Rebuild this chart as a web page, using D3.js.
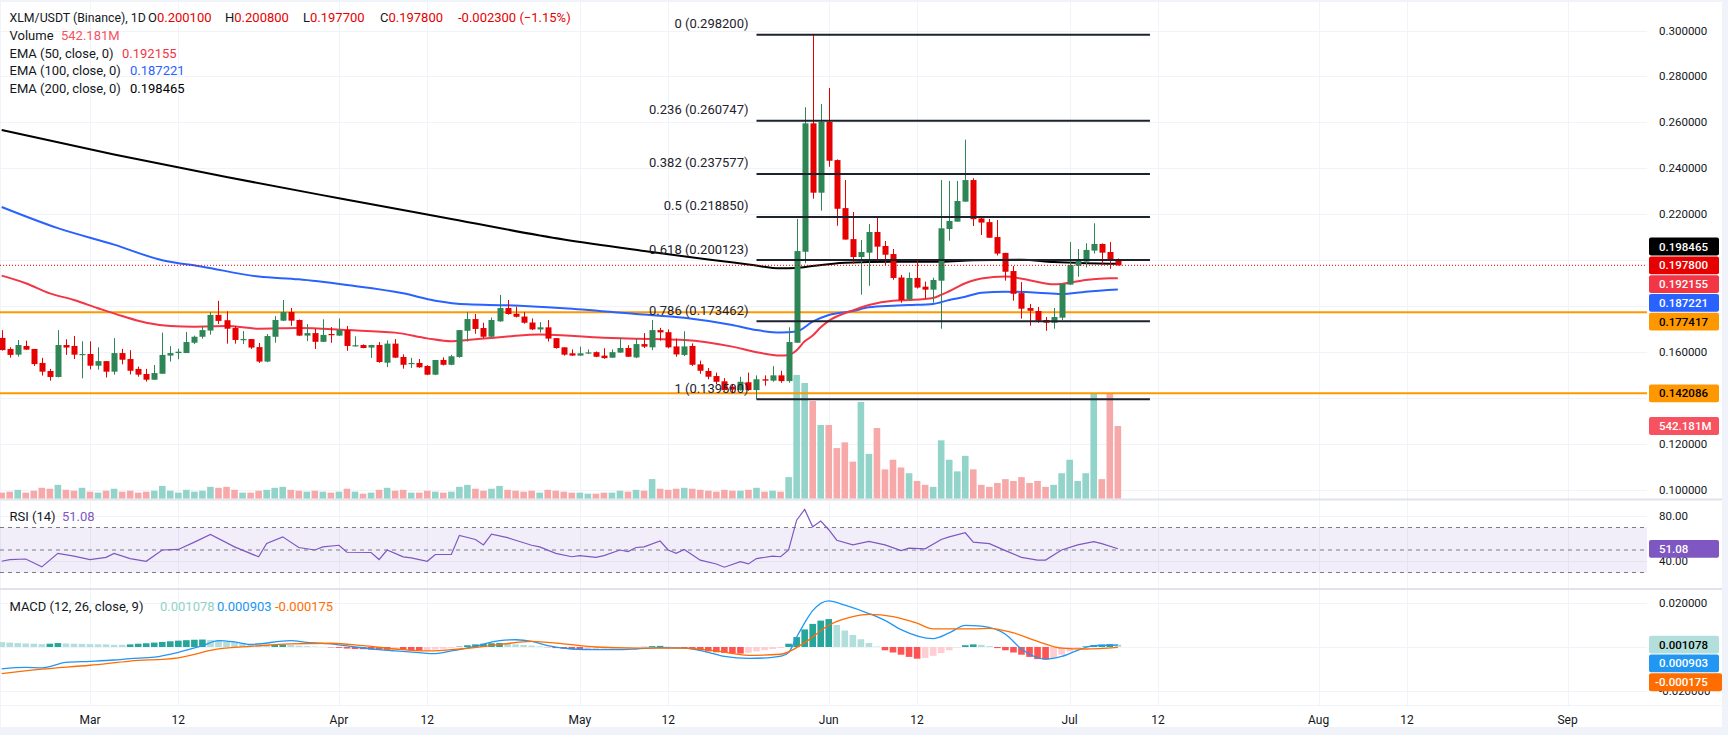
<!DOCTYPE html>
<html>
<head>
<meta charset="utf-8">
<script src="https://cdn.jsdelivr.net/npm/d3@7"></script>
<style>
html, body { margin: 0; padding: 0; background: #f0f3fa; }
svg { display: block; font-family: Roboto, "Liberation Sans", sans-serif; }
</style>
</head>
<body>
<div id="chart"></div>
<script>
// daily candles, Feb 18 .. Jul 7
const firstDay = new Date(2025, 1, 18);
const lastDay = new Date(2025, 6, 7);

const opens = [0.1662,0.1614,0.1589,0.1627,0.1614,0.1553,0.1518,0.1492,0.1631,0.1627,0.1588,0.1592,0.1541,0.1561,0.1515,0.1596,0.1570,0.1527,0.1505,0.1480,
  0.1506,0.1585,0.1596,0.1596,0.1641,0.1667,0.1694,0.1762,0.1739,0.1705,0.1654,0.1657,0.1622,0.1559,0.1667,0.1737,0.1775,0.1740,0.1672,0.1683,
  0.1645,0.1679,0.1672,0.1696,0.1627,0.1631,0.1620,0.1631,0.1554,0.1637,0.1579,0.1548,0.1553,0.1540,0.1502,0.1566,0.1545,0.1579,0.1693,0.1744,
  0.1705,0.1667,0.1734,0.1792,0.1767,0.1755,0.1729,0.1699,0.1708,0.1661,0.1621,0.1595,0.1585,0.1596,0.1600,0.1585,0.1576,0.1598,0.1618,0.1577,
  0.1635,0.1621,0.1696,0.1687,0.1625,0.1588,0.1627,0.1547,0.1518,0.1496,0.1473,0.1450,0.1435,0.1469,0.1435,0.1482,0.1476,0.1499,0.1474,0.1641,
  0.2037,0.2596,0.2294,0.2602,0.2436,0.2227,0.2092,0.2014,0.2033,0.2123,0.2062,0.2027,0.1925,0.1830,0.1923,0.1885,0.1872,0.1911,0.2136,0.2168,
  0.2255,0.2349,0.2182,0.2166,0.2101,0.2032,0.1953,0.1857,0.1792,0.1779,0.1740,0.1728,0.1750,0.1894,0.1976,0.1994,0.2042,0.2071,0.2036,0.2001];
const highs = [0.1696,0.1621,0.1653,0.1650,0.1614,0.1575,0.1527,0.1696,0.1656,0.1670,0.1647,0.1647,0.1621,0.1561,0.1661,0.1614,0.1609,0.1537,0.1527,0.1544,
  0.1685,0.1626,0.1615,0.1688,0.1672,0.1714,0.1775,0.1823,0.1778,0.1714,0.1692,0.1657,0.1640,0.1679,0.1757,0.1827,0.1792,0.1742,0.1722,0.1702,
  0.1743,0.1709,0.1747,0.1714,0.1669,0.1634,0.1632,0.1644,0.1651,0.1657,0.1590,0.1575,0.1570,0.1543,0.1566,0.1577,0.1588,0.1696,0.1775,0.1766,
  0.1728,0.1751,0.1849,0.1827,0.1798,0.1775,0.1747,0.1731,0.1740,0.1661,0.1621,0.1612,0.1624,0.1612,0.1603,0.1617,0.1612,0.1663,0.1630,0.1660,
  0.1683,0.1740,0.1706,0.1699,0.1659,0.1691,0.1638,0.1563,0.1531,0.1511,0.1487,0.1462,0.1493,0.1511,0.1499,0.1499,0.1539,0.1519,0.1708,0.2180,
  0.2666,0.2982,0.2680,0.2750,0.2439,0.2349,0.2210,0.2088,0.2158,0.2184,0.2084,0.2049,0.1936,0.1947,0.2002,0.1907,0.1924,0.2349,0.2345,0.2345,
  0.2525,0.2357,0.2193,0.2180,0.2175,0.2032,0.1975,0.1905,0.1810,0.1797,0.1753,0.1792,0.1897,0.2079,0.2049,0.2074,0.2161,0.2073,0.2079,0.2008];
const lows = [0.1607,0.1576,0.1580,0.1610,0.1540,0.1498,0.1476,0.1490,0.1588,0.1570,0.1486,0.1525,0.1524,0.1490,0.1502,0.1547,0.1503,0.1493,0.1472,0.1480,
  0.1506,0.1559,0.1569,0.1596,0.1635,0.1659,0.1676,0.1723,0.1637,0.1637,0.1635,0.1614,0.1553,0.1556,0.1641,0.1735,0.1715,0.1670,0.1648,0.1614,
  0.1644,0.1641,0.1670,0.1606,0.1624,0.1617,0.1575,0.1554,0.1535,0.1574,0.1528,0.1531,0.1532,0.1500,0.1500,0.1542,0.1543,0.1576,0.1646,0.1680,
  0.1660,0.1665,0.1732,0.1763,0.1751,0.1724,0.1696,0.1685,0.1646,0.1615,0.1585,0.1584,0.1584,0.1592,0.1578,0.1571,0.1575,0.1597,0.1579,0.1574,
  0.1618,0.1609,0.1650,0.1617,0.1580,0.1583,0.1540,0.1506,0.1482,0.1461,0.1432,0.1420,0.1432,0.1432,0.1395,0.1454,0.1471,0.1467,0.1467,0.1641,
  0.1987,0.2268,0.2216,0.2407,0.2150,0.2090,0.1984,0.1850,0.1889,0.1998,0.1979,0.1915,0.1815,0.1829,0.1877,0.1834,0.1815,0.1702,0.2085,0.2168,
  0.2255,0.2149,0.2110,0.2097,0.2021,0.1911,0.1824,0.1746,0.1715,0.1728,0.1693,0.1702,0.1740,0.1893,0.1928,0.1969,0.2029,0.1979,0.1963,0.1977];
const closes = [0.1609,0.1588,0.1631,0.1611,0.1548,0.1515,0.1492,0.1631,0.1620,0.1589,0.1592,0.1541,0.1561,0.1515,0.1596,0.1567,0.1519,0.1502,0.1480,0.1509,
  0.1588,0.1596,0.1602,0.1644,0.1667,0.1696,0.1762,0.1736,0.1702,0.1653,0.1657,0.1620,0.1559,0.1670,0.1740,0.1775,0.1737,0.1672,0.1683,0.1645,
  0.1675,0.1676,0.1696,0.1627,0.1630,0.1618,0.1631,0.1557,0.1637,0.1576,0.1545,0.1553,0.1534,0.1502,0.1566,0.1545,0.1582,0.1696,0.1744,0.1701,
  0.1667,0.1740,0.1792,0.1766,0.1754,0.1728,0.1699,0.1708,0.1659,0.1618,0.1589,0.1585,0.1595,0.1599,0.1580,0.1574,0.1600,0.1618,0.1580,0.1635,
  0.1624,0.1696,0.1686,0.1621,0.1590,0.1625,0.1545,0.1519,0.1493,0.1471,0.1435,0.1437,0.1471,0.1435,0.1482,0.1476,0.1499,0.1474,0.1644,0.2040,
  0.2596,0.2294,0.2602,0.2433,0.2224,0.2090,0.2014,0.2036,0.2123,0.2059,0.2024,0.1923,0.1827,0.1923,0.1881,0.1872,0.1914,0.2139,0.2171,0.2258,
  0.2349,0.2179,0.2164,0.2098,0.2029,0.1950,0.1854,0.1789,0.1780,0.1737,0.1728,0.1753,0.1897,0.1979,0.1997,0.2045,0.2071,0.2033,0.2001,0.1978];
// volume in millions
const volumes = [44,51,65,44,58,80,73,102,65,58,80,51,44,58,73,51,58,44,51,58,
  94,58,44,65,51,58,87,80,87,65,44,44,58,65,80,87,65,58,51,58,
  51,44,51,73,51,36,44,65,80,58,65,44,44,58,51,44,51,87,102,73,
  58,73,94,65,58,51,58,44,65,58,51,44,44,36,36,44,44,58,51,65,
  58,145,73,65,73,80,73,65,58,51,65,58,58,65,80,51,58,51,160,924,
  864,729,550,550,377,420,276,722,334,527,218,290,232,189,131,102,87,435,290,203,
  319,218,102,87,116,145,131,160,116,131,87,102,189,290,131,189,789,145,789,542.181];

// moving averages at sample days (index from Feb 18)
const ema50Idx = [0,3,6,9,12,15,18,21,24,28,32,37,43,49,53,56,58,60,63,67,75,81,85,91,94,97,98,99,100,101,102,103,106,108,111,113,116,117,118,120,122,125,128,131,132,135,138,139];
const ema50Val = [0.1933,0.1900,0.1856,0.1827,0.1791,0.1757,0.1728,0.1714,0.1711,0.1714,0.1702,0.1705,0.1696,0.1685,0.1660,0.1647,0.1653,0.1659,0.1668,0.1677,0.1663,0.1657,0.1653,0.1624,0.1600,0.1585,0.1588,0.1608,0.1647,0.1672,0.1708,0.1736,0.1782,0.1805,0.1824,0.1827,0.1836,0.1849,0.1865,0.1900,0.1921,0.1929,0.1913,0.1895,0.1897,0.1914,0.1922,0.192155];
const ema100Idx = [0,7,14,20,25,32,37,43,50,54,58,63,70,79,85,91,94,97,99,101,103,106,108,111,113,116,118,120,122,125,129,132,135,139];
const ema100Val = [0.2232,0.2140,0.2068,0.2000,0.1972,0.1929,0.1917,0.1892,0.1856,0.1824,0.1808,0.1804,0.1791,0.1766,0.1750,0.1718,0.1696,0.1685,0.1690,0.1733,0.1762,0.1779,0.1795,0.1802,0.1805,0.1810,0.1827,0.1841,0.1859,0.1863,0.1859,0.1853,0.1863,0.187221];
const ema200Idx = [0,14,28,42,56,70,80,88,93,97,99,101,105,111,117,121,127,131,135,139];
const ema200Val = [0.2567,0.2460,0.2362,0.2270,0.2180,0.2090,0.2040,0.2003,0.1982,0.1965,0.1966,0.1975,0.1989,0.1994,0.1994,0.2000,0.2002,0.1992,0.1987,0.198465];

// RSI (14)
const rsiIdx = [0,1,3,5,7,9,11,13,14,16,18,20,22,24,26,29,32,33,35,37,39,40,42,43,46,47,48,50,51,53,54,56,57,59,60,61,63,64,66,67,69,71,72,74,75,77,78,79,80,82,83,84,85,87,89,90,92,93,94,96,97,98,99,100,101,102,103,104,106,108,110,112,113,115,117,118,120,121,123,125,127,129,130,132,134,136,137,139];
const rsiVal = [40,41.5,42,35,47,44.5,41.5,43.5,47,42.4,40,50,50.5,57,63.8,52.8,43.9,55.8,61.7,52.2,50,52.8,54.2,48,47.8,41.5,50,43.9,43,40,46,46,63,59.3,54.5,64,61,58.7,54.2,52.8,47,44,45,43.5,45,50,48.6,52.2,52.8,58,50,47,50.5,41,37.6,34.7,39.7,37.6,42.4,44.5,44,50,76.5,86,70.6,75.7,68,58.7,54.5,57.7,54.5,49.4,51.6,51,59.3,61.7,65.3,57,55.6,49.4,43.5,41,41,50,54.5,57.4,55.6,51.08];

// MACD (12, 26, 9)
const macdIdx = [0,3,5,8,11,14,16,19,22,25,27,29,31,36,38,41,44,47,49,52,54,56,59,62,64,66,68,71,74,77,79,82,85,88,90,93,96,97,98,99,100,101,103,105,108,110,112,116,118,120,122,125,127,130,132,134,136,139];
const macdVal = [-0.0099,-0.0093,-0.0095,-0.0070,-0.0065,-0.0059,-0.0053,-0.0046,-0.0024,0.0006,0.0029,0.0023,0.0012,0.0029,0.0021,0.0014,0,-0.0012,-0.0018,-0.0026,-0.0030,-0.0018,0.0003,0.0029,0.0033,0.0026,0.0006,-0.0009,-0.0012,-0.0012,-0.0009,-0.0003,-0.0005,-0.0024,-0.0043,-0.0052,-0.0047,-0.0042,-0.0025,0.0045,0.0110,0.0165,0.0210,0.0190,0.0152,0.0121,0.0079,0.0038,0.0064,0.0098,0.0095,0.0058,-0.0009,-0.0055,-0.0043,-0.0015,0.0006,0.000903];
const signalIdx = [0,5,11,16,22,27,31,36,41,45,49,53,57,62,66,70,74,79,85,89,93,97,100,103,106,108,111,114,116,121,123,126,129,132,135,139];
const signalVal = [-0.0121,-0.0101,-0.0083,-0.0064,-0.0049,-0.0009,0.0003,0.0014,0.0017,0.0006,-0.0009,-0.0018,-0.0009,0.0011,0.0026,0.0014,0,-0.0005,-0.0005,-0.0018,-0.0038,-0.0033,0.0020,0.0099,0.0138,0.0148,0.0138,0.0108,0.0082,0.0082,0.0085,0.0064,0.0026,-0.0005,-0.0009,-0.000175];
// histogram, in thousandths
const histVal = [2.2,2.0,1.8,1.6,1.5,1.3,1.5,1.8,1.6,1.5,1.4,1.3,1.2,1.2,1.0,1.0,1.2,1.5,1.7,2.0,
  2.3,2.6,2.9,3.1,3.3,3.4,3.2,2.8,2.4,2.0,1.6,1.3,1.0,0.9,1.0,1.1,0.9,0.6,0.4,0.2,
  0.1,-0.2,-0.4,-0.7,-0.9,-1.0,-1.2,-1.3,-1.3,-1.2,-1.3,-1.5,-1.6,-1.4,-1.1,-0.8,-0.4,0.2,0.8,1.2,
  1.5,1.7,1.8,1.5,1.2,0.9,0.6,0.3,-0.1,-0.5,-0.8,-1.0,-1.2,-1.1,-0.9,-0.8,-0.7,-0.5,-0.4,-0.2,
  0.1,0.4,0.5,0.2,-0.2,-0.5,-1.0,-1.5,-2.0,-2.4,-2.7,-2.9,-3.0,-2.6,-2.0,-1.4,-0.9,-0.5,1.5,4.5,
  8.0,10.5,12.0,12.7,10.0,7.5,5.5,3.5,1.8,0.2,-1.5,-2.5,-3.5,-4.5,-5.3,-5.0,-4.0,-2.8,-1.5,-0.2,
  0.8,1.2,1.0,0.4,-0.5,-1.5,-2.5,-3.5,-4.5,-5.5,-5.7,-5.0,-3.5,-2.0,-0.8,0.3,0.8,1.1,1.3,1.078];

// drawings
const fibLevels = ["0", "0.236", "0.382", "0.5", "0.618", "0.786", "1"];
const fibPrices = [0.2982, 0.260747, 0.237577, 0.21885, 0.200123, 0.173462, 0.1395];
const fibFrom = new Date(2025, 4, 23);
const fibTo = new Date(2025, 6, 11);
const supportLevels = [0.177417, 0.142086];
const lastPrice = 0.1978;
const lastVolume = 542.181;

const priceTicks = [0.10, 0.12, 0.14, 0.16, 0.18, 0.20, 0.22, 0.24, 0.26, 0.28, 0.30];
const rsiTicks = [80, 40];
const macdTicks = [0.02, 0, -0.02];
const timeTicks = [[2025,2,1,"Mar"],[2025,2,12,"12"],[2025,3,1,"Apr"],[2025,3,12,"12"],[2025,4,1,"May"],[2025,4,12,"12"],
  [2025,5,1,"Jun"],[2025,5,12,"12"],[2025,6,1,"Jul"],[2025,6,12,"12"],[2025,7,1,"Aug"],[2025,7,12,"12"],[2025,8,1,"Sep"]];

const width = 1728, height = 735;
const paneRight = 1647;
const UP = "#2e8555", DOWN = "#e60000";
const TEXT = "#131722";

const dates = d3.timeDay.range(firstDay, d3.timeDay.offset(lastDay, 1));

const svg = d3.select("#chart").append("svg")
    .attr("width", width)
    .attr("height", height);

svg.append("rect").attr("width", width).attr("height", height).attr("fill", "#f0f3fa");
svg.append("rect").attr("x", 1).attr("y", 2).attr("width", 1721).attr("height", 725).attr("fill", "#fff");

const x = d3.scaleTime()
    .domain([new Date(2025, 2, 1), new Date(2025, 8, 1)])
    .range([90, 90 + 184 * 8.03]);
const y = d3.scaleLinear().domain([0.1, 0.3]).range([490, 30.5]);
const yVol = d3.scaleLinear().domain([0, lastVolume]).range([498.5, 426]);
const yRsi = d3.scaleLinear().domain([30, 70]).range([572.5, 527.5]);
const yMacd = d3.scaleLinear().domain([-0.02, 0.02]).range([691, 603]);

const defs = svg.append("defs");
defs.append("clipPath").attr("id", "mainClip").append("rect")
    .attr("x", 0).attr("y", 2).attr("width", paneRight).attr("height", 497);

// grid
const grid = svg.append("g").attr("stroke", "#f0f3fa").attr("stroke-width", 1);
timeTicks.forEach(t => {
    const xx = Math.round(x(new Date(t[0], t[1], t[2]))) + 0.5;
    grid.append("line").attr("x1", xx).attr("x2", xx).attr("y1", 2).attr("y2", 705);
});
priceTicks.forEach(p => grid.append("line").attr("x1", 0).attr("x2", paneRight)
    .attr("y1", Math.round(y(p)) + 0.5).attr("y2", Math.round(y(p)) + 0.5));
rsiTicks.forEach(r => grid.append("line").attr("x1", 0).attr("x2", paneRight)
    .attr("y1", Math.round(yRsi(r)) + 0.5).attr("y2", Math.round(yRsi(r)) + 0.5));
macdTicks.forEach(m => grid.append("line").attr("x1", 0).attr("x2", paneRight)
    .attr("y1", Math.round(yMacd(m)) + 0.5).attr("y2", Math.round(yMacd(m)) + 0.5));

// pane separators
[499.5, 589].forEach(s => svg.append("line").attr("x1", 0).attr("x2", 1722)
    .attr("y1", s).attr("y2", s).attr("stroke", "#e0e3eb").attr("stroke-width", 2));
svg.append("line").attr("x1", 0).attr("x2", 1722).attr("y1", 705.5).attr("y2", 705.5)
    .attr("stroke", "#f0f3fa");

const main = svg.append("g").attr("clip-path", "url(#mainClip)");

// volume
main.append("g").selectAll("rect")
    .data(d3.range(dates.length))
    .join("rect")
    .attr("x", i => x(dates[i]) - 3.3)
    .attr("width", 6.6)
    .attr("y", i => yVol(volumes[i]))
    .attr("height", i => yVol(0) - yVol(volumes[i]))
    .attr("fill", i => closes[i] >= opens[i] ? "#92d3ca" : "#f7a9aa");

// support lines
supportLevels.forEach(p => main.append("line")
    .attr("x1", 0).attr("x2", paneRight)
    .attr("y1", y(p)).attr("y2", y(p))
    .attr("stroke", "#ff9800").attr("stroke-width", 2));

// moving averages
function maLine(idx, val, color) {
    const pts = idx.map((d, k) => [x(dates[d]), y(val[k])]);
    main.append("path")
        .attr("d", d3.line().curve(d3.curveMonotoneX)(pts))
        .attr("fill", "none")
        .attr("stroke", color)
        .attr("stroke-width", 2);
}
maLine(ema200Idx, ema200Val, "#000000");
maLine(ema100Idx, ema100Val, "#2962ff");
maLine(ema50Idx, ema50Val, "#f23645");

// candles
const candle = main.append("g").selectAll("g")
    .data(d3.range(dates.length))
    .join("g")
    .attr("fill", i => closes[i] >= opens[i] ? UP : DOWN)
    .attr("stroke", i => closes[i] >= opens[i] ? UP : DOWN);
candle.append("line")
    .attr("x1", i => Math.round(x(dates[i])) + 0.5)
    .attr("x2", i => Math.round(x(dates[i])) + 0.5)
    .attr("y1", i => y(highs[i]))
    .attr("y2", i => y(lows[i]))
    .attr("stroke-width", 1);
candle.append("rect")
    .attr("stroke", "none")
    .attr("x", i => Math.round(x(dates[i])) - 2.5)
    .attr("width", 6)
    .attr("y", i => y(Math.max(opens[i], closes[i])))
    .attr("height", i => Math.max(1.2, y(Math.min(opens[i], closes[i])) - y(Math.max(opens[i], closes[i]))));

// fib retracement
const fib = main.append("g");
fibPrices.forEach((p, k) => {
    fib.append("line")
        .attr("x1", x(fibFrom)).attr("x2", x(fibTo))
        .attr("y1", y(p)).attr("y2", y(p))
        .attr("stroke", "#1e222d").attr("stroke-width", 2);
    fib.append("text")
        .attr("x", x(fibFrom) - 8)
        .attr("y", y(p) - 11)
        .attr("dy", "0.35em")
        .attr("text-anchor", "end")
        .attr("font-size", 13)
        .attr("fill", "#1e222d")
        .text(`${fibLevels[k]} (${p.toFixed(6)})`);
});

// last price line
main.append("line")
    .attr("x1", 0).attr("x2", paneRight)
    .attr("y1", y(lastPrice)).attr("y2", y(lastPrice))
    .attr("stroke", DOWN).attr("stroke-width", 1)
    .attr("stroke-dasharray", "1,2");

// RSI pane
svg.append("rect")
    .attr("x", 0).attr("width", paneRight)
    .attr("y", yRsi(70)).attr("height", yRsi(30) - yRsi(70))
    .attr("fill", "#7e57c2").attr("fill-opacity", 0.1);
[70, 50, 30].forEach(r => svg.append("line")
    .attr("x1", 0).attr("x2", paneRight)
    .attr("y1", yRsi(r)).attr("y2", yRsi(r))
    .attr("stroke", "#787b86").attr("stroke-width", 1)
    .attr("stroke-dasharray", "4,4"));
svg.append("path")
    .attr("d", d3.line()(rsiIdx.map((d, k) => [x(dates[d]), yRsi(rsiVal[k])])))
    .attr("fill", "none").attr("stroke", "#7e57c2").attr("stroke-width", 1.2);

// MACD pane
svg.append("g").selectAll("rect")
    .data(d3.range(dates.length))
    .join("rect")
    .attr("x", i => x(dates[i]) - 3.3)
    .attr("width", 6.6)
    .attr("y", i => yMacd(Math.max(0, histVal[i] / 1000)))
    .attr("height", i => Math.abs(yMacd(histVal[i] / 1000) - yMacd(0)))
    .attr("fill", i => {
        const h = histVal[i], prev = i > 0 ? histVal[i - 1] : h;
        if (h >= 0) return prev < h ? "#26a69a" : "#b2dfdb";
        return prev < h ? "#ffcdd2" : "#ff5252";
    });
svg.append("path")
    .attr("d", d3.line().curve(d3.curveMonotoneX)(macdIdx.map((d, k) => [x(dates[d]), yMacd(macdVal[k])])))
    .attr("fill", "none").attr("stroke", "#2196f3").attr("stroke-width", 1.3);
svg.append("path")
    .attr("d", d3.line().curve(d3.curveMonotoneX)(signalIdx.map((d, k) => [x(dates[d]), yMacd(signalVal[k])])))
    .attr("fill", "none").attr("stroke", "#ff6d00").attr("stroke-width", 1.3);

// time axis
svg.append("g").selectAll("text")
    .data(timeTicks)
    .join("text")
    .attr("x", t => x(new Date(t[0], t[1], t[2])))
    .attr("y", 720)
    .attr("dy", "0.35em")
    .attr("text-anchor", "middle")
    .attr("font-size", 12)
    .attr("fill", TEXT)
    .text(t => t[3]);

// value labels on the right scale
const labelH = 18.8;
const mainLabels = [
    { v: 0.198465, text: "0.198465", bg: "#000000", fg: "#fff" },
    { v: 0.197800, text: "0.197800", bg: DOWN, fg: "#fff", anchor: true },
    { v: 0.192155, text: "0.192155", bg: "#f23645", fg: "#fff" },
    { v: 0.187221, text: "0.187221", bg: "#2962ff", fg: "#fff" },
    { v: 0.177417, text: "0.177417", bg: "#ff9800", fg: "#000" }
];
const anchorK = mainLabels.findIndex(l => l.anchor);
mainLabels.forEach((l, k) => l.y = y(lastPrice) + (k - anchorK) * labelH);
const otherLabels = [
    { y: y(0.142086), text: "0.142086", bg: "#ff9800", fg: "#000" },
    { y: yVol(lastVolume), text: "542.181M", bg: "#f7525f", fg: "#fff" },
    { y: yRsi(51.08), text: "51.08", bg: "#7e57c2", fg: "#fff" },
    { y: yMacd(0.001078), text: "0.001078", bg: "#b2dfdb", fg: "#000" },
    { y: yMacd(0.001078) + labelH, text: "0.000903", bg: "#2196f3", fg: "#fff" },
    { y: yMacd(0.001078) + labelH * 2, text: "-0.000175", bg: "#ff6d00", fg: "#fff" }
];
const allLabels = mainLabels.concat(otherLabels);

// axis tick labels, hidden where a value label covers them
const axisText = [];
priceTicks.forEach(p => axisText.push({ y: y(p), text: p.toFixed(6) }));
rsiTicks.forEach(r => axisText.push({ y: yRsi(r), text: r.toFixed(2) }));
macdTicks.forEach(m => axisText.push({ y: yMacd(m), text: m.toFixed(6) }));
svg.append("g").selectAll("text")
    .data(axisText.filter(a => !allLabels.some(l => Math.abs(l.y - a.y) < 9) || a.text === "-0.020000" || a.text === "40.00"))
    .join("text")
    .attr("x", 1659)
    .attr("y", a => a.y)
    .attr("dy", "0.35em")
    .attr("font-size", 11.5)
    .attr("fill", TEXT)
    .text(a => a.text);

const lab = svg.append("g").selectAll("g").data(allLabels).join("g");
lab.append("rect")
    .attr("x", 1649)
    .attr("y", l => l.y - labelH / 2 + 0.5)
    .attr("width", l => l.text.length > 8 ? 73 : 70)
    .attr("height", labelH - 1)
    .attr("rx", 2)
    .attr("fill", l => l.bg);
lab.append("text")
    .attr("x", l => l.text.length > 8 ? 1655 : 1659)
    .attr("y", l => l.y)
    .attr("dy", "0.35em")
    .attr("font-size", 11.5)
    .attr("font-weight", 500)
    .attr("fill", l => l.fg)
    .text(l => l.text);

// legends
function legendRow(yy, parts) {
    const t = svg.append("text").attr("y", yy).attr("dy", "0.35em").attr("font-size", 13);
    parts.forEach(p => {
        const s = t.append("tspan").attr("fill", p[1]).text(p[0]);
        if (p[2] !== undefined) s.attr("x", p[2]);
    });
}
svg.append("text")
    .attr("x", 9.5).attr("y", 17.6).attr("dy", "0.35em")
    .attr("font-size", 12.3).attr("fill", TEXT)
    .text("XLM/USDT (Binance), 1D");
legendRow(17.6, [
    ["O", TEXT, 148], ["0.200100", DOWN],
    ["H", TEXT, 225], ["0.200800", DOWN],
    ["L", TEXT, 303], ["0.197700", DOWN],
    ["C", TEXT, 380], ["0.197800", DOWN],
    ["-0.002300 (\u22121.15%)", DOWN, 458]]);
legendRow(35.3, [["Volume", TEXT, 9.5], ["542.181M", "#f7525f", 61]]);
legendRow(53, [["EMA (50, close, 0)", TEXT, 9.5], ["0.192155", "#f23645", 122]]);
legendRow(70.6, [["EMA (100, close, 0)", TEXT, 9.5], ["0.187221", "#2962ff", 130]]);
legendRow(88.2, [["EMA (200, close, 0)", TEXT, 9.5], ["0.198465", "#000000", 130]]);
legendRow(516.5, [["RSI (14)", TEXT, 9.5], ["51.08", "#7e57c2", 62]]);
legendRow(606, [["MACD (12, 26, close, 9)", TEXT, 9.5], ["0.001078", "#8fd3c7", 160],
    ["0.000903", "#2196f3", 217], ["-0.000175", "#ff6d00", 275]]);
</script>
</body>
</html>
